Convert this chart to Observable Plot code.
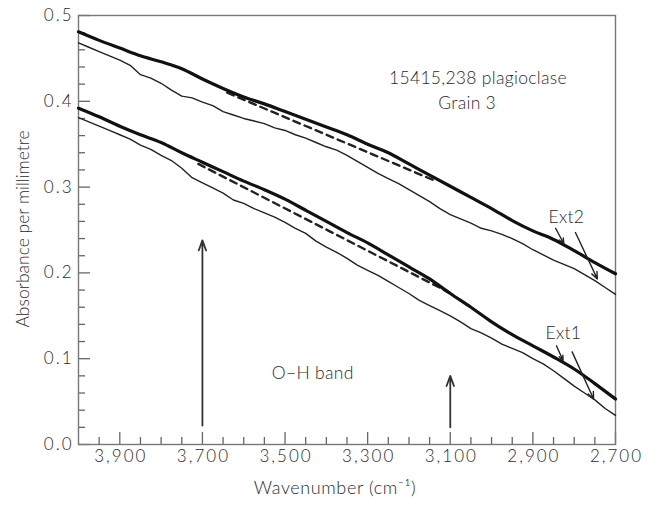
<!DOCTYPE html>
<html><head><meta charset="utf-8">
<script src="https://cdn.jsdelivr.net/npm/d3@7"></script>
<script src="https://cdn.jsdelivr.net/npm/@observablehq/plot@0.6"></script>
<style>
body{margin:0;background:#fff}
g[aria-description="ticklabels"] text{letter-spacing:2px}
g[aria-description="xtitle"] text{letter-spacing:0.6px}
g[aria-description="notes"] text{letter-spacing:0.3px}
</style>
</head><body><div id="chart"></div>
<script>
// Wavenumber grids (cm^-1)
const wnThick = [4000,3950,3900,3850,3800,3750,3700,3650,3600,3550,3500,3450,3400,3350,3300,3250,3200,3150,3100,3050,3000,2950,2900,2850,2800,2750,2700];
const wnThin = [4000,3975,3950,3925,3900,3875,3850,3825,3800,3775,3750,3725,3700,3675,3650,3625,3600,3575,3550,3525,3500,3475,3450,3425,3400,3375,3350,3325,3300,3275,3250,3225,3200,3175,3150,3125,3100,3075,3050,3025,3000,2975,2950,2925,2900,2875,2850,2825,2800,2775,2750,2725,2700];

// Ext2 spectra (upper pair)
const ext2Thick = [0.481,0.471,0.462,0.453,0.446,0.438,0.426,0.415,0.405,0.397,0.388,0.379,0.370,0.361,0.350,0.340,0.327,0.314,0.301,0.288,0.275,0.261,0.249,0.239,0.226,0.212,0.199];
const ext2Thin = [0.468,0.463,0.458,0.453,0.448,0.442,0.431,0.427,0.421,0.413,0.406,0.404,0.399,0.395,0.388,0.384,0.380,0.377,0.374,0.369,0.366,0.361,0.357,0.352,0.347,0.343,0.337,0.330,0.323,0.316,0.310,0.304,0.297,0.290,0.283,0.275,0.268,0.263,0.258,0.252,0.249,0.245,0.240,0.234,0.227,0.221,0.215,0.210,0.205,0.198,0.191,0.183,0.175];

// Ext1 spectra (lower pair)
const ext1Thick = [0.392,0.382,0.371,0.361,0.352,0.340,0.329,0.318,0.307,0.297,0.286,0.273,0.260,0.247,0.235,0.221,0.207,0.193,0.176,0.160,0.143,0.128,0.115,0.102,0.088,0.071,0.053];
const ext1Thin = [0.381,0.376,0.371,0.366,0.361,0.356,0.349,0.344,0.337,0.331,0.322,0.311,0.305,0.299,0.293,0.285,0.281,0.275,0.270,0.265,0.259,0.252,0.246,0.237,0.230,0.224,0.217,0.209,0.203,0.197,0.190,0.183,0.176,0.168,0.162,0.156,0.150,0.143,0.135,0.130,0.124,0.117,0.112,0.107,0.100,0.094,0.086,0.077,0.068,0.060,0.052,0.042,0.034];

// Dashed baselines
const ext2BaseWn = [3640, 3140];
const ext2BaseVal = [0.410, 0.308];
const ext1BaseWn = [3710, 3090];
const ext1BaseVal = [0.327, 0.174];

// O-H band limit arrows
const bandWn = [3700, 3100];
const bandFrom = [0.022, 0.020];
const bandTo = [0.238, 0.080];

// Label pointer arrows
const ptrX1 = [2845, 2797, 2843, 2805];
const ptrY1 = [0.252, 0.247, 0.115, 0.108];
const ptrX2 = [2825, 2744, 2827, 2753];
const ptrY2 = [0.234, 0.193, 0.098, 0.053];

// Annotation texts
const noteText = ["15415,238 plagioclase", "Grain 3", "O\u2212H band", "Ext2", "Ext1"];
const noteWn = [3033, 3059, 3433, 2819, 2826];
const noteVal = [0.4266, 0.3974, 0.0828, 0.2649, 0.1294];

// Ticks
const xMajor = [3900, 3700, 3500, 3300, 3100, 2900, 2700];
const xMinor = [3950,3850,3800,3750,3650,3600,3550,3450,3400,3350,3250,3200,3150,3050,3000,2950,2850,2800,2750];
const yMajor = [0, 0.1, 0.2, 0.3, 0.4, 0.5];
const yMinor = [0.02,0.04,0.06,0.08,0.12,0.14,0.16,0.18,0.22,0.24,0.26,0.28,0.32,0.34,0.36,0.38,0.42,0.44,0.46,0.48];

const W = 654, H = 506, mL = 78, mR = 39, mT = 15, mB = 62;
const pw = W - mL - mR, ph = H - mT - mB;

const pts = (wn, v) => wn.map((x, i) => ({x, y: v[i]}));
const txtColor = "#2a2a2a";

const chart = Plot.plot({
  width: W, height: H,
  marginLeft: mL, marginRight: mR, marginTop: mT, marginBottom: mB,
  style: {fontFamily: "Lato, 'Open Sans', sans-serif", background: "#fff"},
  x: {domain: [4000, 2700], axis: null},
  y: {domain: [0, 0.5], axis: null},
  marks: [
    // ticks (inward)
    Plot.ruleX(xMajor, {x: d => d, insetTop: ph - 12, stroke: "#666", strokeWidth: 1.3}),
    Plot.ruleX(xMinor, {x: d => d, insetTop: ph - 7, stroke: "#666", strokeWidth: 1.3}),
    Plot.ruleY(yMajor, {y: d => d, insetRight: pw - 12, stroke: "#666", strokeWidth: 1.3}),
    Plot.ruleY(yMinor, {y: d => d, insetRight: pw - 7, stroke: "#666", strokeWidth: 1.3}),
    Plot.frame({stroke: "#777", strokeWidth: 1.4}),
    // tick labels
    Plot.text(xMajor, {x: d => d, frameAnchor: "bottom", dy: 17, dx: 1, text: d3.format(","), fontSize: 17, fontWeight: 300, fill: txtColor, ariaDescription: "ticklabels"}),
    Plot.text(yMajor, {y: d => d, frameAnchor: "left", dx: -5, textAnchor: "end", text: d => d.toFixed(1), fontSize: 17, fontWeight: 300, fill: txtColor, ariaDescription: "ticklabels"}),
    // axis titles
    Plot.text(["Wavenumber (cm\u207B\u00B9)"], {frameAnchor: "bottom", dy: 49, dx: -12, fontSize: 18, fontWeight: 300, fill: txtColor, ariaDescription: "xtitle"}),
    Plot.text(["Absorbance per millimetre"], {frameAnchor: "left", textAnchor: "middle", dx: -55, dy: -1, rotate: -90, fontSize: 17.5, fontWeight: 300, fill: txtColor}),
    // spectra
    Plot.line(pts(wnThin, ext2Thin), {x: "x", y: "y", stroke: "#222", strokeWidth: 1.4}),
    Plot.line(pts(wnThin, ext1Thin), {x: "x", y: "y", stroke: "#222", strokeWidth: 1.4}),
    Plot.line(pts(ext2BaseWn, ext2BaseVal), {x: "x", y: "y", stroke: "#222", strokeWidth: 2.4, strokeDasharray: "7,5"}),
    Plot.line(pts(ext1BaseWn, ext1BaseVal), {x: "x", y: "y", stroke: "#222", strokeWidth: 2.4, strokeDasharray: "7,5"}),
    Plot.line(pts(wnThick, ext2Thick), {x: "x", y: "y", stroke: "#111", strokeWidth: 3.2, curve: "monotone-x"}),
    Plot.line(pts(wnThick, ext1Thick), {x: "x", y: "y", stroke: "#111", strokeWidth: 3.2, curve: "monotone-x"}),
    // O-H band arrows
    Plot.arrow(bandWn, {x1: d => d, x2: d => d, y1: (d, i) => bandFrom[i], y2: (d, i) => bandTo[i], stroke: "#333", strokeWidth: 1.8, headLength: 9, headAngle: 40}),
    // pointer arrows
    Plot.arrow(ptrX1, {x1: d => d, y1: (d, i) => ptrY1[i], x2: (d, i) => ptrX2[i], y2: (d, i) => ptrY2[i], stroke: "#222", strokeWidth: 1.4, headLength: 8, headAngle: 45}),
    // annotations
    Plot.text(noteText, {x: (d, i) => noteWn[i], y: (d, i) => noteVal[i], text: d => d, fontSize: 17.5, fontWeight: 300, fill: txtColor, ariaDescription: "notes"})
  ]
});
document.getElementById("chart").appendChild(chart);
</script>
</body></html>
